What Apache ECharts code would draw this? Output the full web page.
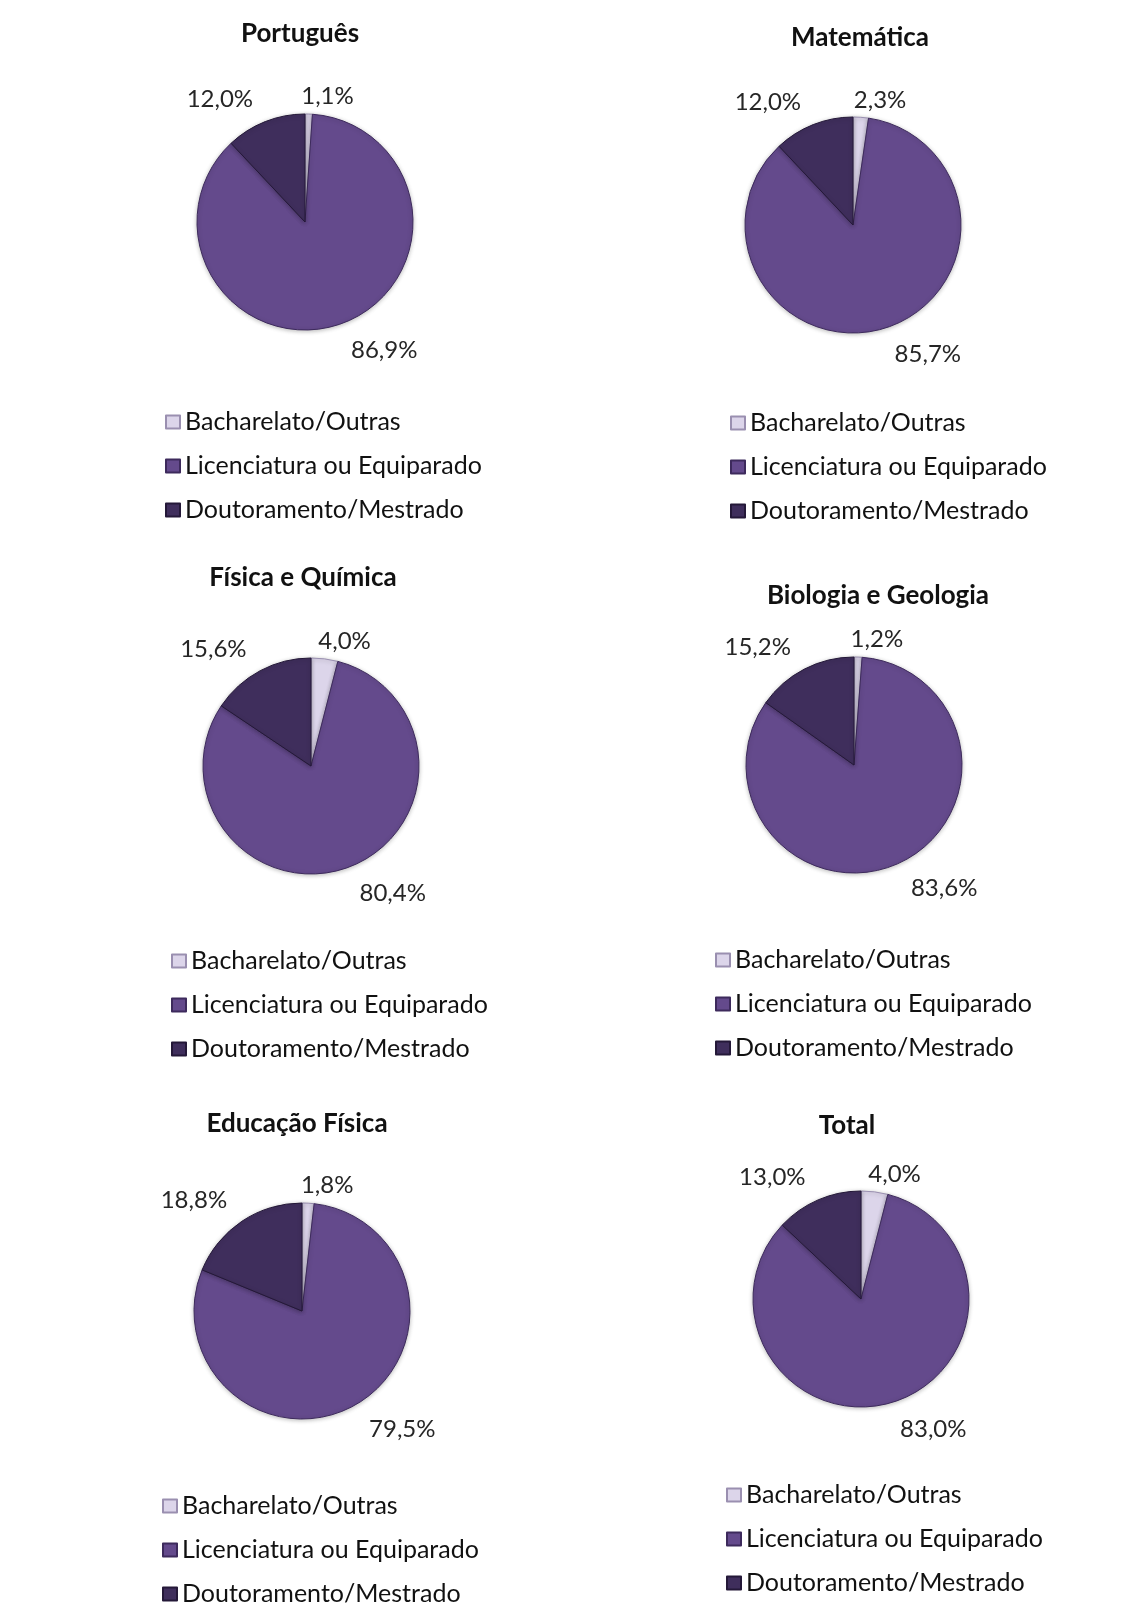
<!DOCTYPE html>
<html>
<head>
<meta charset="utf-8">
<script src="https://cdn.jsdelivr.net/npm/echarts@6/dist/echarts.min.js"></script>
<style>
html,body{margin:0;padding:0;background:#fff;}
#c{width:1143px;height:1605px;}
</style>
</head>
<body>
<div id="c"></div>
<script>
// ---- data ----
var categories = ['Bacharelato/Outras', 'Licenciatura ou Equiparado', 'Doutoramento/Mestrado'];
var panelTitles = ['Português', 'Matemática', 'Física e Química', 'Biologia e Geologia', 'Educação Física', 'Total'];
var portugues = [1.1, 86.9, 12.0];
var matematica = [2.3, 85.7, 12.0];
var fisicaQuimica = [4.0, 80.4, 15.6];
var biologiaGeologia = [1.2, 83.6, 15.2];
var educacaoFisica = [1.8, 79.5, 18.8];
var total = [4.0, 83.0, 13.0];
var panelValues = [portugues, matematica, fisicaQuimica, biologiaGeologia, educacaoFisica, total];

// ---- layout / style ----
var colors = ['#dcd5ea', '#644a8c', '#3f2e5c'];
var borders = ['#9a8fb0', '#3d2a5c', '#241838'];
var layout = [
  {cx: 305, cy: 222, tx: 295, ty: 16, lx: 160, ly: 404},
  {cx: 853, cy: 225, tx: 855, ty: 20, lx: 725, ly: 405},
  {cx: 311, cy: 766, tx: 298, ty: 560, lx: 166, ly: 943},
  {cx: 854, cy: 765, tx: 873, ty: 578, lx: 710, ly: 942},
  {cx: 302, cy: 1311, tx: 292, ty: 1106, lx: 157, ly: 1488},
  {cx: 861, cy: 1299, tx: 842, ty: 1108, lx: 721, ly: 1477}
];
var labelNudge = [{dx: -17, dy: -3.5}, {dx: -4, dy: 13}, {dx: 2, dy: -9.5}];
var R = 108;
var FONT = 'Lato, "Open Sans", sans-serif';

function fmt(v) { return v.toFixed(1).replace('.', ',') + '%'; }

var titles = [], legends = [], series = [];
panelTitles.forEach(function (t, i) {
  var L = layout[i];
  titles.push({
    text: t, left: L.tx, top: L.ty, textAlign: 'center',
    textStyle: {fontFamily: FONT, fontSize: 26, fontWeight: 'bold', color: '#111'}
  });
  legends.push({
    orient: 'vertical', left: L.lx, top: L.ly, height: 140,
    itemWidth: 14, itemHeight: 13, itemGap: 18, icon: 'rect',
    selectedMode: false,
    data: categories,
    textStyle: {fontFamily: FONT, fontSize: 25, color: '#111', lineHeight: 26}
  });
  series.push({
    type: 'pie', name: t,
    center: [L.cx, L.cy], radius: [0, R],
    startAngle: 90, clockwise: true,
    avoidLabelOverlap: false,
    silent: true,
    label: {
      show: true, position: 'outside',
      formatter: function (p) { return fmt(p.value); },
      fontFamily: FONT, fontSize: 24, color: '#262626'
    },
    labelLine: {show: false, length: 14, length2: 4},
    labelLayout: function (p) { return labelNudge[p.dataIndex]; },
    itemStyle: {shadowBlur: 4, shadowColor: 'rgba(0,0,0,0.25)', shadowOffsetY: 1},
    data: categories.map(function (c, k) {
      return {
        name: c, value: panelValues[i][k],
        itemStyle: {color: colors[k], borderColor: borders[k], borderWidth: 1}
      };
    })
  });
});

var chart = echarts.init(document.getElementById('c'));
chart.setOption({
  backgroundColor: '#ffffff',
  animation: false,
  color: colors,
  title: titles,
  legend: legends,
  series: series
});
</script>
</body>
</html>
